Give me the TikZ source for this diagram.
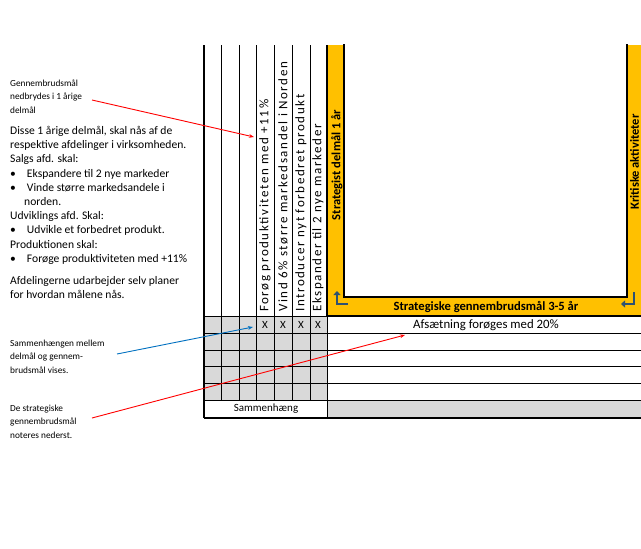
\documentclass[tikz,border=0pt]{standalone}
\usepackage{fontspec}
\setmainfont{Carlito}
\usetikzlibrary{arrows.meta}
\definecolor{orng}{HTML}{FFC000}
\definecolor{gry}{HTML}{D9D9D9}
\definecolor{icon}{HTML}{2E5272}
\definecolor{bl}{HTML}{0070C0}
\begin{document}
\begin{tikzpicture}[x=1pt,y=-1pt,
  grid/.style={black,line width=0.8pt},
  small/.style={font=\fontsize{9.3}{13.2}\selectfont,align=left,anchor=north west,inner sep=0},
  big/.style={font=\fontsize{11.6}{14.2}\selectfont,align=left,anchor=north west,inner sep=0},
  vert/.style={rotate=90,anchor=west,font=\fontsize{13}{14}\selectfont\addfontfeature{LetterSpace=12},inner sep=0},
  vbold/.style={rotate=90,font=\bfseries\fontsize{12.5}{14}\selectfont,inner sep=0},
  redarr/.style={red,line width=0.9pt,-{Stealth[length=5pt]}},
  bluearr/.style={bl,line width=0.9pt,-{Stealth[length=5pt]}},
  iconline/.style={icon,line width=2.6pt}]
\useasboundingbox (0,0) rectangle (641,549);
% grey cells
\fill[gry] (204,316) rectangle (327,400);
\fill[gry] (327,400) rectangle (641,418);
% orange frame
\fill[orng] (327,45) rectangle (641,316);
\fill[white,draw=black,line width=1.8pt] (344,44) -- (344,297) -- (627,297) -- (627,44);
\draw[black,line width=1.6pt] (327,45) -- (327,316) -- (641,316);
% vertical lines
\foreach \x in {221,239,256,274,292,310} \draw[grid] (\x,45) -- (\x,400);
\draw[black,line width=1.6pt] (204,45) -- (204,418);
% horizontal lines
\foreach \y in {333,350,366,383} \draw[grid] (204,\y) -- (641,\y);
\draw[grid] (204,316) -- (327,316);
\draw[grid] (204,400) -- (641,400);
\draw[black,line width=1.6pt] (204,418) -- (641,418);
\draw[grid] (327,316) -- (327,418);
% vertical texts
\node[vert] (c1) at (265,312) {Forøg produktiviteten med +11\%};
\node[vert] (c2) at (283,312) {Vind 6\% større markedsandel i Norden};
\node[vert] (c3) at (301,312) {Introducer nyt forbedret produkt};
\node[vert] (c4) at (318,312) {Ekspander til 2 nye markeder};
\node[vbold] (sd) at (337,165) {Strategist delmål 1 år};
\node[vbold] (ka) at (634.5,162) {Kritiske aktiviteter};
\node[font=\bfseries\fontsize{12.6}{14}\selectfont,inner sep=0] (sg) at (486,307) {Strategiske gennembrudsmål 3-5 år};
% X marks
\foreach \x/\n in {265/x1,283/x2,301/x3,318/x4} \node[font=\fontsize{11}{12}\selectfont,inner sep=0] (\n) at (\x,325) {X};
\node[font=\fontsize{12.8}{14}\selectfont,inner sep=0] (af) at (486,325) {Afsætning forøges med 20\%};
\node[font=\fontsize{11}{12}\selectfont,inner sep=0] (sam) at (266,409) {Sammenhæng};
% icons
\draw[iconline,-{Triangle[length=4pt,width=7pt]}] (348,304) -- (337,304) -- (337,291);
\draw[iconline,-{Triangle[length=4pt,width=7pt]}] (634,292) -- (634,304) -- (621,304);
% left texts
\node[small] (t1) at (10,80) {Gennembrudsmål\\nedbrydes i 1 årige\\delmål};
\node[big] (t2) at (10,126) {Disse 1 årige delmål, skal nås af de\\respektive afdelinger i virksomheden.\\Salgs afd. skal:\\
\textbullet\hspace{11pt}Ekspandere til 2 nye markeder\\
\textbullet\hspace{11pt}Vinde større markedsandele i\\\hspace{14pt}norden.\\
Udviklings afd. Skal:\\
\textbullet\hspace{11pt}Udvikle et forbedret produkt.\\
Produktionen skal:\\
\textbullet\hspace{11pt}Forøge produktiviteten med +11\%};
\node[big] (t3) at (10,276) {Afdelingerne udarbejder selv planer\\for hvordan målene nås.};
\node[small] (t4) at (10,340) {Sammenhængen mellem\\delmål og gennem-\\brudsmål vises.};
\node[small] (t5) at (10,405) {De strategiske\\gennembrudsmål\\noteres nederst.};
\coordinate (a1s) at (92,100); \coordinate (a1e) at (254,137);
\coordinate (a2s) at (117,354); \coordinate (a2e) at (253,327);
\coordinate (a3s) at (92,418); \coordinate (a3e) at (405,335);
\draw[redarr] (a1s) -- (a1e);
\draw[bluearr] (a2s) -- (a2e);
\draw[redarr] (a3s) -- (a3e);
\end{tikzpicture}
\end{document}
